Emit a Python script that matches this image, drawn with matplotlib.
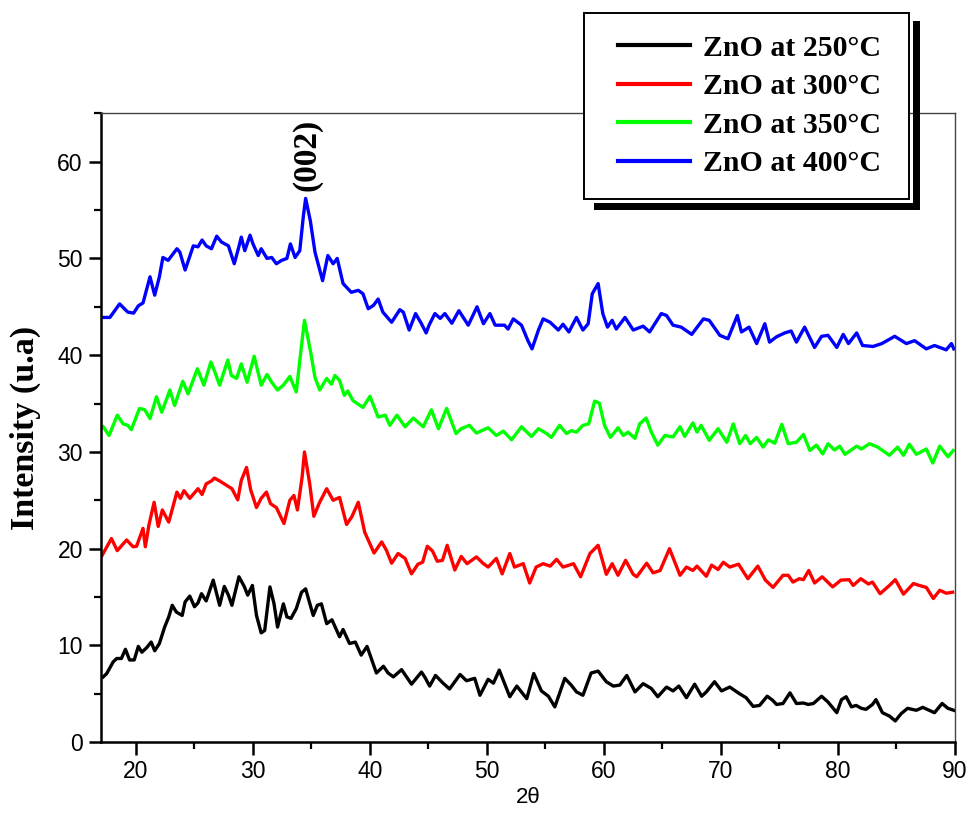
#!/usr/bin/env python3
"""XRD patterns of ZnO films annealed at different temperatures."""
import matplotlib
matplotlib.use("Agg")
import matplotlib.pyplot as plt
from matplotlib.patches import Rectangle
from matplotlib.ticker import MultipleLocator

# --- data (2theta, intensity) ---
x_250 = [17.2, 17.5, 18.05, 18.35, 18.75, 19.1, 19.45, 19.85, 20.2, 20.5, 20.9, 21.3, 21.6, 22.0,
         22.45, 22.8, 23.1, 23.45, 23.95, 24.2, 24.6, 25.0, 25.3, 25.6, 26.0, 26.6, 27.15, 27.55,
         27.9, 28.2, 28.8, 29.25, 29.55, 29.95, 30.3, 30.7, 31.0, 31.45, 31.8, 32.1, 32.6, 32.9,
         33.25, 33.7, 34.15, 34.5, 35.15, 35.5, 35.85, 36.3, 36.75, 37.4, 37.7, 38.25, 38.75, 39.25,
         39.75, 40.55, 41.15, 41.55, 42.0, 42.7, 43.55, 44.4, 44.7, 45.1, 45.6, 46.25, 46.8, 47.7,
         48.25, 48.95, 49.4, 50.1, 50.55, 51.05, 51.95, 52.55, 53.4, 54.0, 54.65, 55.25, 55.8, 56.65,
         57.2, 57.65, 58.2, 58.9, 59.5, 60.2, 60.8, 61.35, 61.95, 62.65, 63.35, 64.05, 64.6, 65.35,
         65.9, 66.4, 67.05, 67.75, 68.35, 68.75, 69.45, 70.05, 70.75, 71.6, 72.15, 72.75, 73.3,
         73.95, 74.4, 74.75, 75.3, 75.9, 76.45, 77.05, 77.45, 77.9, 78.6, 79.15, 79.9, 80.3, 80.7,
         81.15, 81.55, 82.0, 82.4, 82.95, 83.25, 83.8, 84.4, 84.9, 85.4, 85.95, 86.7, 87.25, 87.8,
         88.25, 88.9, 89.4, 89.9]
y_250 = [6.75, 7.1, 8.3, 8.65, 8.65, 9.6, 8.5, 8.5, 9.9, 9.3, 9.75, 10.35, 9.45, 10.2,
         11.9, 12.95, 14.15, 13.45, 13.1, 14.5, 15.1, 14.0, 14.4, 15.35, 14.6, 16.75, 14.15, 16.1,
         15.2, 14.15, 17.1, 16.1, 15.2, 16.2, 13.1, 11.3, 11.55, 16.05, 14.3, 11.9, 14.3, 12.95,
         12.8, 13.8, 15.5, 15.85, 13.1, 14.15, 14.3, 12.25, 12.65, 10.9, 11.65, 10.2, 10.35, 9.0,
         9.9, 7.15, 7.85, 7.15, 6.75, 7.5, 6.0, 7.25, 6.7, 5.8, 6.9, 6.1, 5.5, 7.0,
         6.35, 6.6, 4.85, 6.5, 6.1, 7.45, 4.7, 5.8, 4.5, 7.1, 5.3, 4.75, 3.65, 6.6,
         5.9, 5.2, 4.85, 7.15, 7.35, 6.25, 5.8, 5.9, 6.9, 5.2, 6.05, 5.55, 4.7, 5.7,
         5.3, 5.8, 4.6, 6.0, 4.75, 5.2, 6.25, 5.3, 5.7, 5.0, 4.6, 3.7, 3.8,
         4.75, 4.35, 3.9, 4.0, 5.1, 4.0, 4.05, 3.9, 4.0, 4.75, 4.15, 3.05, 4.4, 4.7,
         3.65, 3.8, 3.5, 3.4, 3.9, 4.4, 3.05, 2.7, 2.2, 2.95, 3.5, 3.3, 3.6, 3.3,
         3.05, 4.0, 3.5, 3.3]

x_300 = [17.1, 17.9, 18.4, 19.2, 19.75, 20.05, 20.6, 20.8, 21.1, 21.55, 21.9, 22.25, 22.8, 23.5,
         23.8, 24.1, 24.6, 25.3, 25.65, 26.0, 26.45, 26.7, 27.15, 27.75, 28.2, 28.7, 29.0, 29.45,
         29.8, 30.3, 30.7, 31.15, 31.5, 32.0, 32.65, 33.15, 33.5, 33.8, 34.2, 34.4, 34.85, 35.2,
         35.7, 36.3, 36.85, 37.4, 38.0, 38.45, 39.0, 39.55, 40.35, 41.0, 41.4, 41.85, 42.4, 43.0,
         43.55, 44.1, 44.5, 44.9, 45.35, 45.75, 46.2, 46.6, 47.25, 47.8, 48.3, 49.1, 49.65, 50.1,
         50.8, 51.3, 51.95, 52.35, 53.1, 53.65, 54.2, 54.8, 55.4, 55.95, 56.5, 57.4, 58.0, 58.8,
         59.5, 60.2, 60.7, 61.2, 61.85, 62.5, 62.8, 63.65, 64.2, 64.8, 65.6, 66.5, 67.05, 67.6,
         67.95, 68.75, 69.2, 69.75, 70.2, 70.75, 71.5, 72.3, 73.15, 73.8, 74.45, 75.3, 75.75,
         76.15, 76.7, 77.05, 77.5, 78.0, 78.65, 79.55, 80.25, 80.95, 81.3, 81.95, 82.6, 82.95,
         83.6, 84.4, 84.9, 85.6, 86.45, 86.95, 87.55, 88.15, 88.7, 89.25, 89.8]
y_300 = [19.3, 21.05, 19.8, 20.9, 20.2, 20.25, 22.1, 20.2, 22.4, 24.8, 22.3, 24.0, 22.75, 25.85,
         25.2, 26.0, 25.2, 26.2, 25.6, 26.7, 27.0, 27.3, 27.0, 26.55, 26.2, 25.05, 27.05, 28.4,
         26.1, 24.25, 25.2, 25.85, 24.65, 24.25, 22.6, 25.0, 25.5, 24.0, 27.4, 30.0, 26.7, 23.35,
         24.8, 26.2, 25.0, 25.3, 22.5, 23.3, 24.8, 21.7, 19.55, 20.7, 19.85, 18.5, 19.5, 19.0,
         17.4, 18.4, 18.6, 20.25, 19.75, 18.7, 18.8, 20.35, 17.8, 19.2, 18.45, 19.15, 18.5, 18.1,
         19.0, 17.4, 19.5, 18.1, 18.45, 16.45, 18.1, 18.45, 18.2, 18.9, 18.1, 18.45, 17.1, 19.5,
         20.35, 17.35, 18.45, 17.25, 18.8, 17.35, 17.1, 18.5, 17.5, 17.75, 20.0, 17.25, 18.1, 17.75,
         18.2, 17.15, 18.3, 17.85, 18.6, 18.1, 18.4, 16.9, 18.2, 16.75, 16.0, 17.25, 17.25,
         16.55, 16.9, 16.8, 17.75, 16.45, 17.1, 16.05, 16.75, 16.8, 16.2, 16.9, 16.35, 16.55,
         15.35, 16.2, 16.8, 15.3, 16.4, 16.2, 16.0, 14.85, 15.7, 15.4, 15.5]

x_350 = [17.2, 17.7, 18.4, 18.9, 19.3, 19.6, 20.3, 20.75, 21.2, 21.75, 22.2, 22.9, 23.3, 24.0,
         24.45, 25.25, 25.8, 26.4, 26.7, 27.15, 27.85, 28.15, 28.6, 29.0, 29.5, 30.1, 30.7, 31.2,
         31.6, 32.1, 32.6, 33.15, 33.7, 34.1, 34.4, 34.9, 35.3, 35.7, 36.3, 36.7, 37.0, 37.4,
         37.8, 38.1, 38.55, 39.4, 40.0, 40.7, 41.3, 41.7, 42.3, 43.0, 43.7, 44.55, 45.25, 45.85,
         46.55, 47.35, 47.8, 48.5, 49.1, 50.1, 50.8, 51.4, 52.1, 52.95, 53.8, 54.4, 55.1, 55.5,
         56.2, 56.8, 57.2, 57.65, 58.2, 58.7, 59.2, 59.6, 60.05, 60.55, 61.2, 61.65, 62.05, 62.65,
         63.05, 63.6, 64.05, 64.6, 65.2, 65.9, 66.5, 66.9, 67.6, 67.95, 68.3, 69.0, 69.75, 70.5,
         71.05, 71.6, 72.1, 72.5, 73.05, 73.6, 74.05, 74.6, 75.2, 75.75, 76.45, 77.05, 77.6,
         78.15, 78.7, 79.15, 79.7, 80.15, 80.6, 81.6, 82.0, 82.7, 83.4, 84.4, 85.1, 85.6, 86.1,
         86.7, 87.55, 88.1, 88.7, 89.4, 89.85]
y_350 = [32.6, 31.7, 33.8, 32.9, 32.75, 32.3, 34.5, 34.35, 33.45, 35.7, 34.1, 36.4, 34.8, 37.3,
         36.0, 38.6, 36.9, 39.3, 38.4, 36.9, 39.5, 37.9, 37.6, 39.1, 37.2, 39.9, 36.9, 38.0,
         37.2, 36.4, 36.9, 37.8, 36.2, 40.5, 43.6, 40.5, 37.7, 36.4, 37.6, 37.0, 37.9, 37.4,
         35.85, 36.3, 35.3, 34.6, 35.75, 33.6, 33.8, 32.75, 33.8, 32.6, 33.5, 32.6, 34.35, 32.4,
         34.5, 31.9, 32.4, 32.75, 31.95, 32.5, 31.7, 32.15, 31.25, 32.6, 31.6, 32.4, 31.9, 31.5,
         32.75, 31.9, 32.2, 32.05, 32.75, 32.9, 35.25, 35.05, 32.75, 31.5, 32.5, 31.7, 32.05, 31.4,
         32.9, 33.5, 32.05, 30.7, 31.7, 31.55, 32.6, 31.6, 33.0, 32.05, 32.75, 31.2, 32.4, 31.0,
         32.9, 30.85, 31.7, 30.85, 31.5, 30.5, 31.25, 30.9, 32.85, 30.85, 31.0, 31.8, 30.15,
         30.7, 29.8, 30.85, 30.2, 30.6, 29.75, 30.6, 30.3, 30.85, 30.5, 29.65, 30.5, 29.65, 30.8,
         29.75, 30.3, 28.85, 30.6, 29.5, 30.15]

x_400 = [17.2, 17.77, 18.6, 19.3, 19.8, 20.2, 20.6, 21.2, 21.6, 22.0, 22.3, 22.75, 23.5, 23.75,
         24.2, 24.9, 25.3, 25.65, 26.0, 26.45, 26.9, 27.3, 27.9, 28.4, 28.75, 29.0, 29.3, 29.75,
         30.0, 30.45, 30.7, 31.2, 31.6, 32.0, 32.45, 32.9, 33.2, 33.6, 34.0, 34.3, 34.5, 34.9,
         35.3, 35.6, 35.95, 36.4, 36.85, 37.2, 37.7, 38.4, 39.0, 39.4, 39.85, 40.3, 40.7, 41.1,
         41.85, 42.55, 42.85, 43.35, 43.9, 44.4, 44.8, 45.05, 45.55, 46.0, 46.4, 47.0, 47.6, 48.4,
         49.15, 49.7, 50.25, 50.7, 51.5, 51.8, 52.25, 52.95, 53.5, 53.85, 54.4, 54.8, 55.4, 56.1,
         56.5, 57.0, 57.65, 58.2, 58.65, 59.0, 59.5, 59.9, 60.3, 60.7, 61.05, 61.8, 62.5, 63.35,
         63.9, 64.9, 65.35, 65.9, 66.6, 67.5, 68.5, 69.0, 69.9, 70.6, 71.4, 71.75, 72.4, 73.05,
         73.75, 74.15, 74.75, 75.45, 76.0, 76.45, 77.15, 78.0, 78.6, 79.15, 79.9, 80.45, 80.9,
         81.6, 82.1, 83.0, 83.75, 84.85, 85.85, 86.55, 87.55, 88.25, 89.25, 89.7, 89.9]
y_400 = [43.9, 43.9, 45.3, 44.45, 44.35, 45.1, 45.4, 48.1, 46.2, 48.1, 50.1, 49.8, 51.0, 50.65,
         48.8, 51.3, 51.2, 51.9, 51.3, 51.0, 52.3, 51.7, 51.3, 49.45, 51.0, 52.2, 50.8, 52.4,
         51.5, 50.3, 51.0, 50.0, 50.1, 49.45, 49.8, 50.0, 51.5, 50.1, 50.8, 54.3, 56.2, 53.9,
         50.65, 49.3, 47.7, 50.3, 49.45, 50.0, 47.4, 46.5, 46.7, 46.35, 44.8, 45.15, 45.8, 44.45,
         43.4, 44.7, 44.45, 42.6, 44.3, 43.25, 42.3, 43.1, 44.3, 43.8, 44.3, 43.3, 44.6, 43.1,
         45.0, 43.25, 44.3, 43.1, 43.1, 42.7, 43.75, 43.1, 41.5, 40.65, 42.6, 43.75, 43.4, 42.6,
         43.2, 42.4, 43.9, 42.6, 43.25, 46.35, 47.4, 44.3, 42.9, 43.6, 42.7, 43.9, 42.6, 43.0,
         42.4, 44.3, 44.1, 43.1, 42.9, 42.15, 43.75, 43.6, 42.05, 41.7, 44.1, 42.4, 42.9, 41.2,
         43.25, 41.35, 41.9, 42.3, 42.5, 41.35, 42.9, 40.8, 41.95, 42.05, 40.8, 42.15, 41.2,
         42.3, 41.0, 40.9, 41.2, 41.95, 41.2, 41.5, 40.65, 41.0, 40.55, 41.2, 40.65]

labels = ["ZnO at 250°C", "ZnO at 300°C", "ZnO at 350°C", "ZnO at 400°C"]
colors = ["#000000", "#ff0000", "#00ff00", "#0000ff"]

serif = ["Liberation Serif", "DejaVu Serif"]
sans = ["Liberation Sans", "DejaVu Sans"]

fig = plt.figure(figsize=(9.7, 8.33), dpi=100)
ax = fig.add_axes([0.104, 0.109, 0.8805, 0.755])

series = [(x_250, y_250), (x_300, y_300), (x_350, y_350), (x_400, y_400)]
handles = []
for (xs, ys), lab, col in zip(series, labels, colors):
    h, = ax.plot(xs, ys, color=col, lw=2.4, label=lab, solid_joinstyle="round")
    handles.append(h)

ax.set_xlim(17, 90)
ax.set_ylim(0, 65)
ax.xaxis.set_major_locator(MultipleLocator(10))
ax.xaxis.set_minor_locator(MultipleLocator(5))
ax.yaxis.set_major_locator(MultipleLocator(10))
ax.yaxis.set_minor_locator(MultipleLocator(5))
ax.tick_params(which="major", direction="out", length=9, width=1.8, labelsize=16.5, pad=4)
ax.tick_params(which="minor", direction="out", length=5, width=1.6)
for lab in ax.get_xticklabels() + ax.get_yticklabels():
    lab.set_family(sans)
for side in ("left", "bottom"):
    ax.spines[side].set_linewidth(1.8)
for side in ("top", "right"):
    ax.spines[side].set_linewidth(1.0)
    ax.spines[side].set_color("#444444")

ax.set_xlabel("2θ", family=sans, fontsize=16, labelpad=3)
ax.set_ylabel("Intensity (u.a)", family=serif, fontweight="bold", fontsize=24.5, labelpad=12)

ax.text(34.6, 57.0, "(002)", rotation=90, ha="center", va="bottom",
        family=serif, fontweight="bold", fontsize=24)

# legend contents placed without frame; the Origin-style frame is drawn below
leg = ax.legend(handles=handles, loc="upper left", bbox_to_anchor=(0.6054, 1.1252),
                prop={"family": serif, "weight": "bold", "size": 21.5},
                frameon=False, handlelength=2.4, handletextpad=0.45,
                labelspacing=0.39, borderpad=0, borderaxespad=0)
leg.set_zorder(10)
for line in leg.get_lines():
    line.set_linewidth(3)

fig.canvas.draw()
bb = leg.get_window_extent()
to_ax = ax.transAxes.inverted()
pad_l, pad_r, pad_t, pad_b = 34, 28, 22, 22
gap, thick = 4, 7
fx0, fx1 = bb.x0 - pad_l, bb.x1 + pad_r
fy0, fy1 = bb.y0 - pad_b, bb.y1 + pad_t


def add_box(px0, py0, px1, py1, **kw):
    (ax0, ay0), (ax1, ay1) = to_ax.transform([(px0, py0), (px1, py1)])
    ax.add_patch(Rectangle((ax0, ay0), ax1 - ax0, ay1 - ay0, transform=ax.transAxes,
                           clip_on=False, **kw))


# offset shadow (right and bottom bars), then the white frame
add_box(fx1 + gap, fy0 - gap - thick, fx1 + gap + thick, fy1 - 8,
        facecolor="black", edgecolor="none", zorder=8)
add_box(fx0 + 10, fy0 - gap - thick, fx1 + gap + thick, fy0 - gap,
        facecolor="black", edgecolor="none", zorder=8)
add_box(fx0, fy0, fx1, fy1, facecolor="white", edgecolor="black", linewidth=1.4, zorder=9)

fig.savefig("out.png", dpi=100)
